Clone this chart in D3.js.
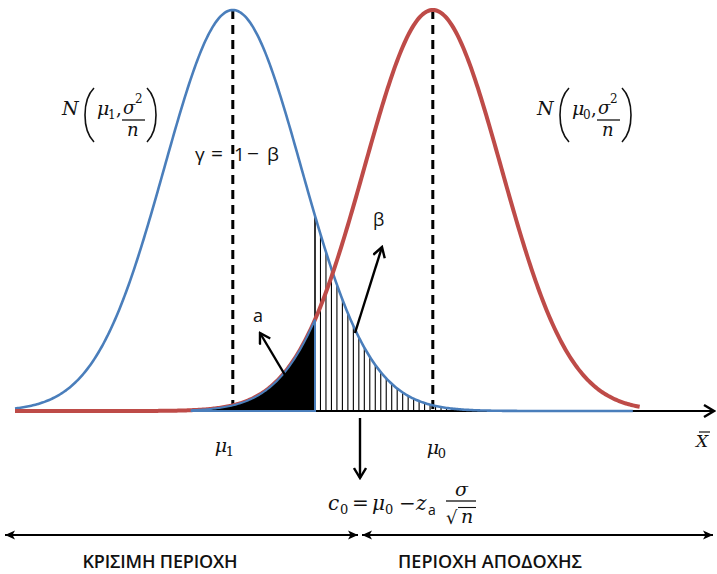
<!DOCTYPE html>
<html>
<head>
<meta charset="utf-8">
<script src="https://cdn.jsdelivr.net/npm/d3@7"></script>
<style>body{margin:0;background:#fff}</style>
</head>
<body>
<div id="chart"></div>
<script>
// two sampling distributions of X-bar, in units of sigma/sqrt(n)
const curveNames = ["H1", "H0"];
const curveMeans = [0, 2.92];
const curveSd = [1, 1];
const curveEnds = [5.85, 5.94];
const curveColors = ["#4a7ebb", "#be4b48"];
const curveWidths = [2.6, 4];

const critical = 1.2;      // c0
const alphaFrom = -0.6;    // where the black alpha area becomes visible
const betaTo = 3.32;       // last hatch line of beta area
const hatchStep = 0.08;

const regionLabels = ["ΚΡΙΣΙΜΗ ΠΕΡΙΟΧΗ", "ΠΕΡΙΟΧΗ ΑΠΟΔΟΧΗΣ"];

const W = 717, H = 574;
const serif = "'DejaVu Serif', serif";
const sans = "'Open Sans', sans-serif";

const x = d3.scaleLinear().domain([-3.18, 7.04]).range([15, 715]);
const y = d3.scaleLinear().domain([0, 1]).range([411, 10]);
const pdf = (v, m, s) => Math.exp(-0.5 * ((v - m) / s) ** 2);

const svg = d3.select("#chart").append("svg")
  .attr("width", W).attr("height", H);

const defs = svg.append("defs");
defs.append("marker").attr("id", "open")
  .attr("markerUnits", "userSpaceOnUse")
  .attr("markerWidth", 14).attr("markerHeight", 14)
  .attr("refX", 12).attr("refY", 7).attr("orient", "auto")
  .append("path").attr("d", "M2,1 L12,7 L2,13")
  .attr("fill", "none").attr("stroke", "#000").attr("stroke-width", 2.4);
defs.append("marker").attr("id", "small")
  .attr("markerUnits", "userSpaceOnUse")
  .attr("markerWidth", 12).attr("markerHeight", 10)
  .attr("refX", 10).attr("refY", 5).attr("orient", "auto-start-reverse")
  .append("path").attr("d", "M0,0.5 L10,5 L0,9.5 L2.5,5 Z").attr("fill", "#000");

// x axis
svg.append("line")
  .attr("x1", x.range()[0]).attr("x2", x.range()[1] - 1)
  .attr("y1", y(0)).attr("y2", y(0))
  .attr("stroke", "#000").attr("stroke-width", 2.2)
  .attr("marker-end", "url(#open)");

// beta area: vertical hatching under H1 curve, right of c0
const hatch = d3.range(critical, betaTo, hatchStep);
svg.append("g").selectAll("line").data(hatch).join("line")
  .attr("x1", d => x(d)).attr("x2", d => x(d))
  .attr("y1", y(0)).attr("y2", d => y(pdf(d, curveMeans[0], curveSd[0])))
  .attr("stroke", "#000").attr("stroke-width", (d, i) => i === 0 ? 1.6 : 1.1);

// dashed lines at the means
svg.append("g").selectAll("line").data(curveMeans).join("line")
  .attr("x1", d => x(d)).attr("x2", d => x(d))
  .attr("y1", y(1)).attr("y2", y(0))
  .attr("stroke", "#000").attr("stroke-width", 3)
  .attr("stroke-dasharray", "9,6");

// curves
const line = (m, s) => d3.line()
  .x(d => x(d)).y(d => y(pdf(d, m, s)));
curveNames.forEach((n, i) => {
  const pts = d3.range(x.domain()[0], curveEnds[i], 0.02);
  svg.append("path").datum(pts)
    .attr("d", line(curveMeans[i], curveSd[i]))
    .attr("fill", "none")
    .attr("stroke", curveColors[i])
    .attr("stroke-width", curveWidths[i]);
});

// alpha area: black under H0 curve, left of c0
const alphaPts = d3.range(alphaFrom, critical + 0.001, 0.02);
svg.append("path").datum(alphaPts)
  .attr("d", d3.area().x(d => x(d)).y0(y(0))
    .y1(d => y(pdf(d, curveMeans[1], curveSd[1]))))
  .attr("fill", "#000")
  .attr("stroke", curveColors[0]).attr("stroke-width", 2);

// ---- text helpers
function put(t, px, py, size, opt = {}) {
  return svg.append("text").attr("x", px).attr("y", py)
    .attr("font-family", opt.family || serif)
    .attr("font-style", opt.italic ? "italic" : "normal")
    .attr("font-weight", opt.weight || "normal")
    .attr("font-size", size)
    .attr("text-anchor", opt.anchor || "start")
    .attr("fill", "#111")
    .text(t);
}
function rule(x1, x2, py, w = 1.3) {
  svg.append("line").attr("x1", x1).attr("x2", x2)
    .attr("y1", py).attr("y2", py)
    .attr("stroke", "#111").attr("stroke-width", w);
}
function paren(px, dir) {
  const bend = px - dir * 12;
  svg.append("path")
    .attr("d", `M${px},88 C${bend},100 ${bend},130 ${px},142`)
    .attr("fill", "none").attr("stroke", "#111").attr("stroke-width", 1.6);
}
function normalLabel(px, sub) {
  put("N", px, 115, 19, {italic: true});
  paren(px + 32, 1);
  put("μ", px + 35, 115, 19, {italic: true});
  put(sub, px + 46, 119, 12);
  put(",", px + 54, 115, 18);
  put("σ", px + 61, 114, 18, {italic: true});
  put("2", px + 73, 103, 12);
  rule(px + 60, px + 83, 120);
  put("n", px + 65, 136, 18, {italic: true});
  paren(px + 85, -1);
}
normalLabel(62, "1");
normalLabel(537, "0");

// γ = 1 − β
put("γ", 195, 161, 19, {family: sans});
put("=", 211, 161, 21, {family: sans});
put("1", 234, 161, 19, {family: sans});
put("−", 247, 161, 21, {family: sans});
put("β", 267, 161, 19, {family: sans});
put("β", 373, 226, 18, {family: sans});
put("a", 253, 322, 18, {family: sans});

// mean labels under axis
put("μ", x(curveMeans[0]) - 18, 452, 19, {italic: true});
put("1", x(curveMeans[0]) - 7, 456, 13);
put("μ", x(curveMeans[1]) - 6, 454, 19, {italic: true});
put("0", x(curveMeans[1]) + 5, 458, 13);

// X-bar
put("X", 696, 447, 17, {italic: true});
rule(699, 710, 432, 1.2);

// c0 formula
put("c", 328, 510, 20, {italic: true});
put("0", 340, 514, 13);
put("=", 352, 510, 20);
put("μ", 372, 510, 20, {italic: true});
put("0", 385, 514, 13);
put("−", 399, 510, 20);
put("z", 416, 510, 20, {italic: true});
put("a", 428, 515, 14, {family: sans});
put("σ", 455, 496, 19, {italic: true});
rule(446, 476, 501);
put("√", 446, 524, 18);
rule(458, 476, 507.5, 1.1);
put("n", 461, 523, 19, {italic: true});

// annotation arrows
function arrow(x1, y1, x2, y2, m = "open", w = 2.4) {
  return svg.append("line")
    .attr("x1", x1).attr("y1", y1).attr("x2", x2).attr("y2", y2)
    .attr("stroke", "#000").attr("stroke-width", w)
    .attr("marker-end", `url(#${m})`);
}
arrow(285, 375, 260, 333);
arrow(355, 333, 382, 247);
arrow(360, 418, 360, 478);

// bottom region arrows
const split = 360;
[[5, split - 2], [split + 2, 713]].forEach(([a, b]) => {
  arrow(a, 535, b, 535, "small", 2)
    .attr("marker-start", "url(#small)");
});
put(regionLabels[0], 160, 568, 18, {family: sans, anchor: "middle", weight: 600})
  .attr("textLength", 155);
put(regionLabels[1], 490, 568, 18, {family: sans, anchor: "middle", weight: 600})
  .attr("textLength", 184);
</script>
</body>
</html>
